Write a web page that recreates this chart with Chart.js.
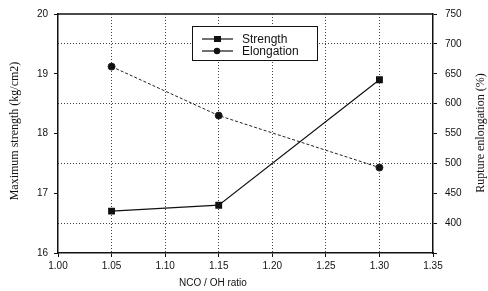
<!DOCTYPE html>
<html>
<head>
<meta charset="utf-8">
<script src="https://cdn.jsdelivr.net/npm/chart.js@4.4.1/dist/chart.umd.min.js"></script>
<style>
  html, body { margin: 0; padding: 0; background: #fff; }
  #wrap { width: 488px; height: 291px; }
</style>
</head>
<body>
<div id="wrap"><canvas id="chart" width="488" height="291"></canvas></div>
<script>
// data
const ratios = [1.05, 1.15, 1.30];
const strength = [16.7, 16.8, 18.9];       // kg/cm2, left axis
const elongation = [662, 580, 493];        // %, right axis
const seriesNames = ['Strength', 'Elongation'];
const xTitle = 'NCO / OH ratio';
const leftTitle = 'Maximum strength (kg/cm2)';
const rightTitle = 'Rupture enlongation (%)';

const INK = '#111';
const DOT = '#444';

// axis titles, top frame line and the boxed legend
const extras = {
    id: 'extras',
    afterDraw(chart) {
        const ctx = chart.ctx;
        const a = chart.chartArea;
        ctx.save();

        // top border
        ctx.strokeStyle = INK;
        ctx.lineWidth = 1.5;
        ctx.beginPath();
        ctx.moveTo(a.left, a.top);
        ctx.lineTo(a.right, a.top);
        ctx.stroke();

        // titles
        ctx.fillStyle = INK;
        ctx.textAlign = 'center';
        ctx.textBaseline = 'middle';
        ctx.font = '10px "Liberation Sans", Arial, sans-serif';
        ctx.fillText(xTitle, 213, 283);

        ctx.font = '12px "Liberation Serif", serif';
        ctx.save();
        ctx.translate(15, 131);
        ctx.rotate(-Math.PI / 2);
        ctx.fillText(leftTitle, 0, 0);
        ctx.restore();

        ctx.save();
        ctx.translate(481, 133);
        ctx.rotate(-Math.PI / 2);
        ctx.fillText(rightTitle, 0, 0);
        ctx.restore();

        // legend box
        ctx.lineWidth = 1;
        ctx.strokeStyle = INK;
        ctx.fillStyle = '#fff';
        ctx.fillRect(192, 26, 125, 34);
        ctx.strokeRect(192.5, 26.5, 125, 34);

        const rows = [39, 51];
        ctx.font = '12px "Liberation Sans", Arial, sans-serif';
        ctx.textAlign = 'left';
        chart.data.datasets.forEach((ds, i) => {
            const y = rows[i];
            ctx.strokeStyle = INK;
            ctx.lineWidth = 1.2;
            ctx.beginPath();
            ctx.moveTo(202, y);
            ctx.lineTo(233, y);
            ctx.stroke();
            ctx.fillStyle = INK;
            if (ds.pointStyle === 'rect') {
                ctx.fillRect(214, y - 3, 7, 6);
            } else {
                ctx.beginPath();
                ctx.arc(217, y, 3.2, 0, Math.PI * 2);
                ctx.fill();
            }
            ctx.fillText(ds.label, 242, y + 0.5);
        });

        ctx.restore();
    }
};

new Chart(document.getElementById('chart'), {
    type: 'line',
    data: {
        datasets: [
            {
                label: seriesNames[0],
                data: ratios.map((r, i) => ({ x: r, y: strength[i] })),
                yAxisID: 'y',
                borderColor: INK,
                backgroundColor: INK,
                borderWidth: 1.2,
                pointStyle: 'rect',
                pointRadius: 4,
                tension: 0
            },
            {
                label: seriesNames[1],
                data: ratios.map((r, i) => ({ x: r, y: elongation[i] })),
                yAxisID: 'y1',
                borderColor: '#222',
                backgroundColor: INK,
                borderWidth: 1,
                borderDash: [3, 2],
                pointStyle: 'circle',
                pointRadius: 3.5,
                tension: 0
            }
        ]
    },
    options: {
        responsive: false,
        animation: false,
        events: [],
        layout: { padding: { top: 11, left: 0, right: 0, bottom: 0 } },
        plugins: {
            legend: { display: false },
            tooltip: { enabled: false }
        },
        scales: {
            x: {
                type: 'linear',
                min: 1.0,
                max: 1.35,
                afterFit: s => { s.height = 38; },
                ticks: {
                    stepSize: 0.05,
                    color: INK,
                    padding: 3,
                    font: { family: '"Liberation Sans", Arial, sans-serif', size: 10 },
                    callback: v => v.toFixed(2)
                },
                grid: {
                    color: c => (c.index > 0 && c.index < 7) ? DOT : 'rgba(0,0,0,0)',
                    tickColor: INK,
                    tickLength: 4,
                    lineWidth: 1
                },
                border: { color: INK, width: 1.5, dash: [1, 2] }
            },
            y: {
                position: 'left',
                min: 16,
                max: 20,
                afterFit: s => { s.width = 58; },
                ticks: {
                    stepSize: 1,
                    color: INK,
                    padding: 6,
                    font: { family: '"Liberation Sans", Arial, sans-serif', size: 10 }
                },
                grid: { drawOnChartArea: false, tickColor: INK, tickLength: 4 },
                border: { color: INK, width: 1.5 }
            },
            y1: {
                position: 'right',
                min: 350,
                max: 750,
                afterFit: s => { s.width = 55; },
                ticks: {
                    stepSize: 50,
                    color: INK,
                    padding: 8,
                    font: { family: '"Liberation Sans", Arial, sans-serif', size: 10 },
                    callback: v => v === 350 ? '' : v
                },
                grid: {
                    color: c => (c.tick && c.tick.value % 100 === 0 && c.tick.value > 350 && c.tick.value < 750) ? DOT : 'rgba(0,0,0,0)',
                    tickColor: INK,
                    tickLength: 4
                },
                border: { color: INK, width: 1.5, dash: [1, 2] }
            }
        }
    },
    plugins: [extras]
});
</script>
</body>
</html>
